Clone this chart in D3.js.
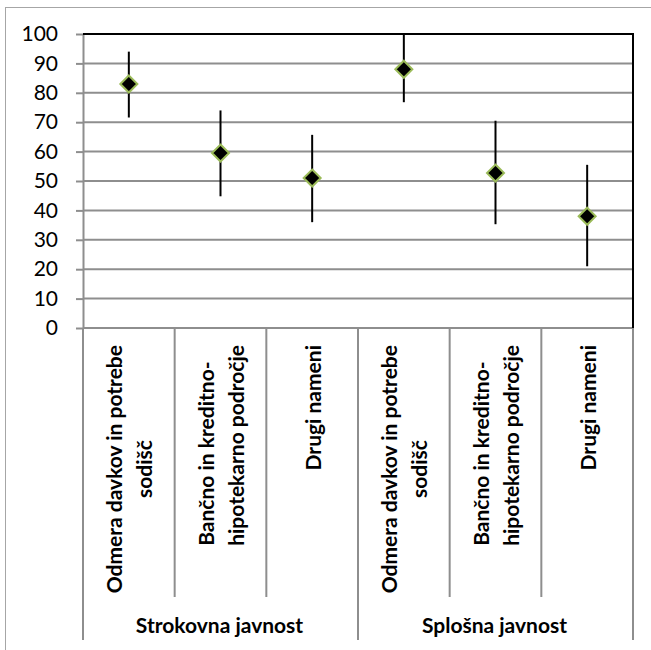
<!DOCTYPE html>
<html>
<head>
<meta charset="utf-8">
<script src="https://cdn.jsdelivr.net/npm/d3@7"></script>
<style>
  html, body { margin: 0; padding: 0; background: #fff; }
  svg { display: block; }
</style>
</head>
<body>
<svg id="chart" width="651" height="650"></svg>
<script>
// ---- data ----
const groups = ["Strokovna javnost", "Splošna javnost"];
const categoryLines = [
  ["Odmera davkov in potrebe", "sodišč"],
  ["Bančno in kreditno-", "hipotekarno področje"],
  ["Drugi nameni"]
];
const means = [83, 59.5, 51, 88, 52.7, 38];
const upper = [94, 74, 65.7, 100, 70.5, 55.5];
const lower = [71.6, 44.8, 36, 76.8, 35.3, 21];
const yTicks = [0, 10, 20, 30, 40, 50, 60, 70, 80, 90, 100];

// ---- layout ----
const W = 651, H = 650;
const plot = { left: 83, right: 633, top: 34, bottom: 328 };
const FONT = "Lato, 'Open Sans', sans-serif";

const svg = d3.select("#chart");

// outer chart frame
svg.append("rect")
  .attr("x", 5.5).attr("y", 7.5)
  .attr("width", 800).attr("height", 800)
  .attr("fill", "none").attr("stroke", "#a6a6a6").attr("stroke-width", 1);

const rows = [];
groups.forEach((g, gi) => categoryLines.forEach((c, ci) => rows.push({ g, gi, ci, key: gi + "|" + ci })));
rows.forEach((r, i) => { r.mean = means[i]; r.hi = upper[i]; r.lo = lower[i]; });

const x = d3.scaleBand().domain(rows.map(r => r.key)).range([plot.left, plot.right]).padding(0);
const y = d3.scaleLinear().domain([0, 100]).range([plot.bottom, plot.top]);

// gridlines
svg.append("g").selectAll("line").data(yTicks.filter(t => t > 0)).join("line")
  .attr("x1", plot.left).attr("x2", plot.right)
  .attr("y1", d => y(d)).attr("y2", d => y(d))
  .attr("stroke", "#8e8e8e").attr("stroke-width", 2);

// y axis with ticks
const yAxis = d3.axisLeft(y).tickValues(yTicks).tickSize(7).tickPadding(18).tickSizeOuter(0);
const ya = svg.append("g").attr("transform", `translate(${plot.left},0)`).call(yAxis);
ya.select(".domain").attr("stroke", "#8e8e8e").attr("stroke-width", 2);
ya.selectAll(".tick line").attr("stroke", "#8e8e8e").attr("stroke-width", 2);
ya.selectAll(".tick text").attr("font-family", FONT).attr("font-size", 21).attr("fill", "#000");

// x axis line
svg.append("line")
  .attr("x1", plot.left).attr("x2", plot.right)
  .attr("y1", plot.bottom).attr("y2", plot.bottom)
  .attr("stroke", "#8e8e8e").attr("stroke-width", 2);

// top & right border (black)
svg.append("path")
  .attr("d", `M${plot.left},${plot.top}H${plot.right}V${plot.bottom}`)
  .attr("fill", "none").attr("stroke", "#000").attr("stroke-width", 2);

// category dividers
const bw = x.bandwidth();
const dividers = d3.range(rows.length + 1).map(i => ({
  x: plot.left + i * bw,
  group: i % categoryLines.length === 0
}));
svg.append("g").selectAll("line").data(dividers).join("line")
  .attr("x1", d => d.x).attr("x2", d => d.x)
  .attr("y1", plot.bottom).attr("y2", d => d.group ? 640 : 597)
  .attr("stroke", "#8e8e8e").attr("stroke-width", 2);

// category labels (rotated)
const lineGap = 30;
const labelTop = 345;
rows.forEach(r => {
  const lines = categoryLines[r.ci];
  const cx = x(r.key) + bw / 2 + 1;
  const g = svg.append("g");
  const texts = lines.map((ln, li) => {
    const bx = cx + (li - (lines.length - 1) / 2) * lineGap + 7.5;
    return g.append("text")
      .attr("font-family", FONT).attr("font-size", 21).attr("font-weight", 700)
      .attr("fill", "#000")
      .attr("transform", `translate(${bx},0) rotate(-90)`)
      .text(ln);
  });
  const lens = texts.map(t => t.node().getComputedTextLength());
  const maxLen = d3.max(lens);
  const centerPos = labelTop + maxLen / 2;
  texts.forEach((t, li) => {
    const ln = lines[li];
    let start; // position (y) of text start (bottom)
    if (ln.endsWith("-") && li + 1 < lines.length) {
      start = labelTop + lens[li + 1];
    } else {
      start = centerPos + lens[li] / 2;
    }
    // in rotated frame, text x = -y
    t.attr("x", -start).attr("y", 0);
  });
});

// group labels
groups.forEach((gname, gi) => {
  const x0 = plot.left + gi * categoryLines.length * bw;
  const x1 = x0 + categoryLines.length * bw;
  svg.append("text")
    .attr("x", (x0 + x1) / 2 - 1).attr("y", 633)
    .attr("text-anchor", "middle")
    .attr("font-family", FONT).attr("font-size", 21).attr("font-weight", 700)
    .attr("fill", "#000")
    .text(gname);
});

// error bars
svg.append("g").selectAll("line").data(rows).join("line")
  .attr("x1", d => x(d.key) + bw / 2).attr("x2", d => x(d.key) + bw / 2)
  .attr("y1", d => y(d.hi)).attr("y2", d => y(d.lo))
  .attr("stroke", "#000").attr("stroke-width", 2);

// markers
const r0 = 8.5;
svg.append("g").selectAll("path").data(rows).join("path")
  .attr("transform", d => `translate(${x(d.key) + bw / 2},${y(d.mean)})`)
  .attr("d", `M0,${-r0}L${r0},0L0,${r0}L${-r0},0Z`)
  .attr("fill", "#000").attr("stroke", "#9bbb59").attr("stroke-width", 2);
</script>
</body>
</html>
